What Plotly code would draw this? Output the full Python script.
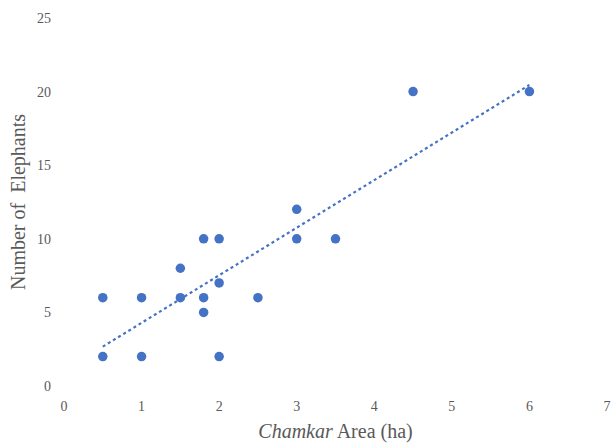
import numpy as np
import plotly.graph_objects as go

area_ha = [0.5, 0.5, 1, 1, 1.5, 1.5, 1.8, 1.8, 1.8, 2, 2, 2, 2.5, 3, 3, 3.5, 4.5, 6]
elephants = [6, 2, 6, 2, 8, 6, 10, 6, 5, 10, 7, 2, 6, 12, 10, 10, 20, 20]
x_ticks = [0, 1, 2, 3, 4, 5, 6, 7]
y_ticks = [0, 5, 10, 15, 20, 25]

slope, intercept = np.polyfit(area_ha, elephants, 1)
tx = [min(area_ha), max(area_ha)]
ty = [slope * v + intercept for v in tx]

blue = "#4472C4"
fig = go.Figure()
fig.add_trace(go.Scatter(x=tx, y=ty, mode="lines",
                         line=dict(color=blue, width=2.2, dash="dot"),
                         hoverinfo="skip", showlegend=False))
fig.add_trace(go.Scatter(x=area_ha, y=elephants, mode="markers",
                         marker=dict(color=blue, size=9.5), showlegend=False))

fig.update_layout(
    width=611, height=443,
    margin=dict(l=64, r=4, t=18, b=57, autoexpand=False),
    paper_bgcolor="white", plot_bgcolor="white",
    font=dict(family="Liberation Serif", color="#595959", size=14),
    xaxis=dict(range=[0, 7], tickvals=x_ticks, showgrid=False, zeroline=False,
               showline=False, ticks="", ticklen=0, automargin=False,
               ticklabelstandoff=10, ticklabeloverflow="allow",
               title=dict(text="<i>Chamkar</i> Area (ha)",
                          font=dict(size=20, color="#595959"), standoff=14)),
    yaxis=dict(range=[0, 25], tickvals=y_ticks, showgrid=False, zeroline=False,
               showline=False, ticks="", ticklen=0, automargin=False,
               ticklabelstandoff=12, ticklabeloverflow="allow",
               title=dict(text="Number of  Elephants",
                          font=dict(size=20, color="#595959"), standoff=6)),
)
fig.write_html("out.html", config={"displayModeBar": False},
               post_script="document.body.style.margin='0';document.body.style.overflow='hidden';")
